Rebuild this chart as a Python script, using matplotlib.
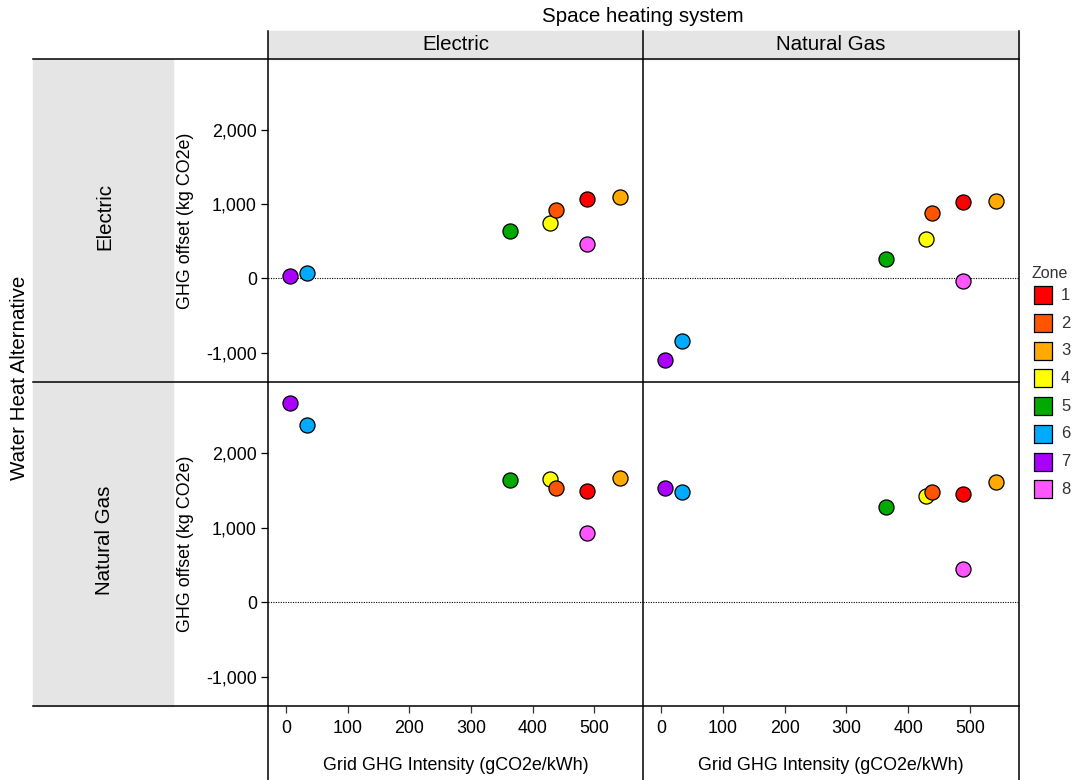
import matplotlib
matplotlib.use('Agg')
import matplotlib.pyplot as plt
from matplotlib.patches import Rectangle
from matplotlib.lines import Line2D

plt.rcParams['font.family'] = ['Liberation Sans', 'DejaVu Sans']

# zones and grid intensity (gCO2e/kWh)
zones = ['1', '2', '3', '4', '5', '6', '7', '8']
zone_colors = ['#FF0000', '#FF5500', '#FFAA00', '#FFFF00',
               '#00AA00', '#00AAFF', '#AA00FF', '#FF55FF']
grid_intensity = [489, 438, 541, 428, 364, 34, 7, 489]

# GHG offset (kg CO2e): rows = water heat alternative, cols = space heating system
offset_elec_elec = [1067, 919, 1098, 744, 637, 71, 35, 461]
offset_gas_elec = [1031, 879, 1050, 525, 264, -840, -1104, -36]
offset_elec_gas = [1498, 1534, 1664, 1655, 1646, 2377, 2678, 933]
offset_gas_gas = [1458, 1475, 1610, 1421, 1273, 1480, 1534, 448]

space_labels = ['Electric', 'Natural Gas']
water_labels = ['Electric', 'Natural Gas']
panel_data = [[offset_elec_elec, offset_gas_elec],
              [offset_elec_gas, offset_gas_gas]]

y_ticks = [-1000, 0, 1000, 2000]
x_ticks = [0, 100, 200, 300, 400, 500]

W, H = 1073, 780
fig = plt.figure(figsize=(W / 100, H / 100), dpi=100)


def px_axes(x0, y0, x1, y1):
    return fig.add_axes([x0 / W, 1 - y1 / H, (x1 - x0) / W, (y1 - y0) / H])


def fx(x):
    return x / W


def fy(y):
    return 1 - y / H


col_edges = [(268, 643), (643, 1019)]
row_edges = [(59, 382), (382, 706)]

# strip backgrounds
grey = '#E5E5E5'
fig.patches.append(Rectangle((fx(268), fy(59)), fx(1019 - 268), 28 / H,
                             transform=fig.transFigure, color=grey, zorder=0))
fig.patches.append(Rectangle((fx(33), fy(706)), fx(173 - 33), (706 - 59) / H,
                             transform=fig.transFigure, color=grey, zorder=0))

for r, (y0, y1) in enumerate(row_edges):
    for c, (x0, x1) in enumerate(col_edges):
        ax = px_axes(x0, y0, x1, y1)
        ax.patch.set_alpha(0)
        for s in ax.spines.values():
            s.set_visible(False)
        ax.axhline(0, color='black', linestyle=(0, (1, 1.2)), linewidth=0.8, zorder=1)
        vals = panel_data[r][c]
        for i in reversed(range(len(zones))):
            ax.scatter(grid_intensity[i], vals[i], s=118, color=zone_colors[i],
                       edgecolor='black', linewidth=0.9, zorder=3)
        ax.set_xlim(-29, 579)
        ax.set_ylim(-1396, 2958)
        ax.set_yticks(y_ticks)
        ax.set_xticks(x_ticks)
        if c == 0:
            ax.set_yticklabels([f'{v:,}' for v in y_ticks], fontsize=12.9)
            ax.tick_params(axis='y', length=5, width=0.9, pad=3, color='black')
        else:
            ax.tick_params(axis='y', left=False, labelleft=False)
        if r == 1:
            ax.set_xticklabels([str(v) for v in x_ticks], fontsize=12.9)
            ax.tick_params(axis='x', length=5, width=0.9, pad=5, color='#333333')
        else:
            ax.tick_params(axis='x', bottom=False, labelbottom=False)

# frame lines
lw = 1.1
for y in [59, 382, 706]:
    fig.add_artist(Line2D([fx(33), fx(1019)], [fy(y), fy(y)], color='black',
                          linewidth=lw, transform=fig.transFigure))
for x in [268, 643, 1019]:
    fig.add_artist(Line2D([fx(x), fx(x)], [fy(31), fy(780)], color='black',
                          linewidth=lw, transform=fig.transFigure))

# texts
fig.text(fx(643), fy(17), 'Space heating system', ha='center', va='center', fontsize=14.8)
for c, (x0, x1) in enumerate(col_edges):
    fig.text(fx((x0 + x1) / 2), fy(45), space_labels[c], ha='center', va='center',
             fontsize=14.8)
    fig.text(fx((x0 + x1) / 2), fy(765), 'Grid GHG Intensity (gCO2e/kWh)',
             ha='center', va='center', fontsize=12.9)
for r, (y0, y1) in enumerate(row_edges):
    fig.text(fx(105), fy((y0 + y1) / 2 - 4), water_labels[r], ha='center', va='center',
             rotation=90, fontsize=14.8)
    fig.text(fx(185), fy((y0 + y1) / 2), 'GHG offset (kg CO2e)', ha='center',
             va='center', rotation=90, fontsize=12.9)
fig.text(fx(20), fy(378), 'Water Heat Alternative', ha='center', va='center',
         rotation=90, fontsize=14.8)

# legend
step = 27.7
lg = px_axes(1026, 295.3 - step / 2, 1073, 295.3 + 7.5 * step)
lg.set_xlim(0, 47)
lg.set_ylim(len(zones) + 0.5, 0.5)
lg.axis('off')
for i, z in enumerate(zones):
    lg.scatter(16.9, i + 1, marker='s', s=150, color=zone_colors[i],
               edgecolor='black', linewidth=0.9, clip_on=False)
    lg.text(35, i + 1, z, ha='left', va='center', fontsize=12, color='#333333')
lg.text(6, 0.2, 'Zone', ha='left', va='center', fontsize=11.5, color='#333333')

fig.savefig('out.png', dpi=100)
